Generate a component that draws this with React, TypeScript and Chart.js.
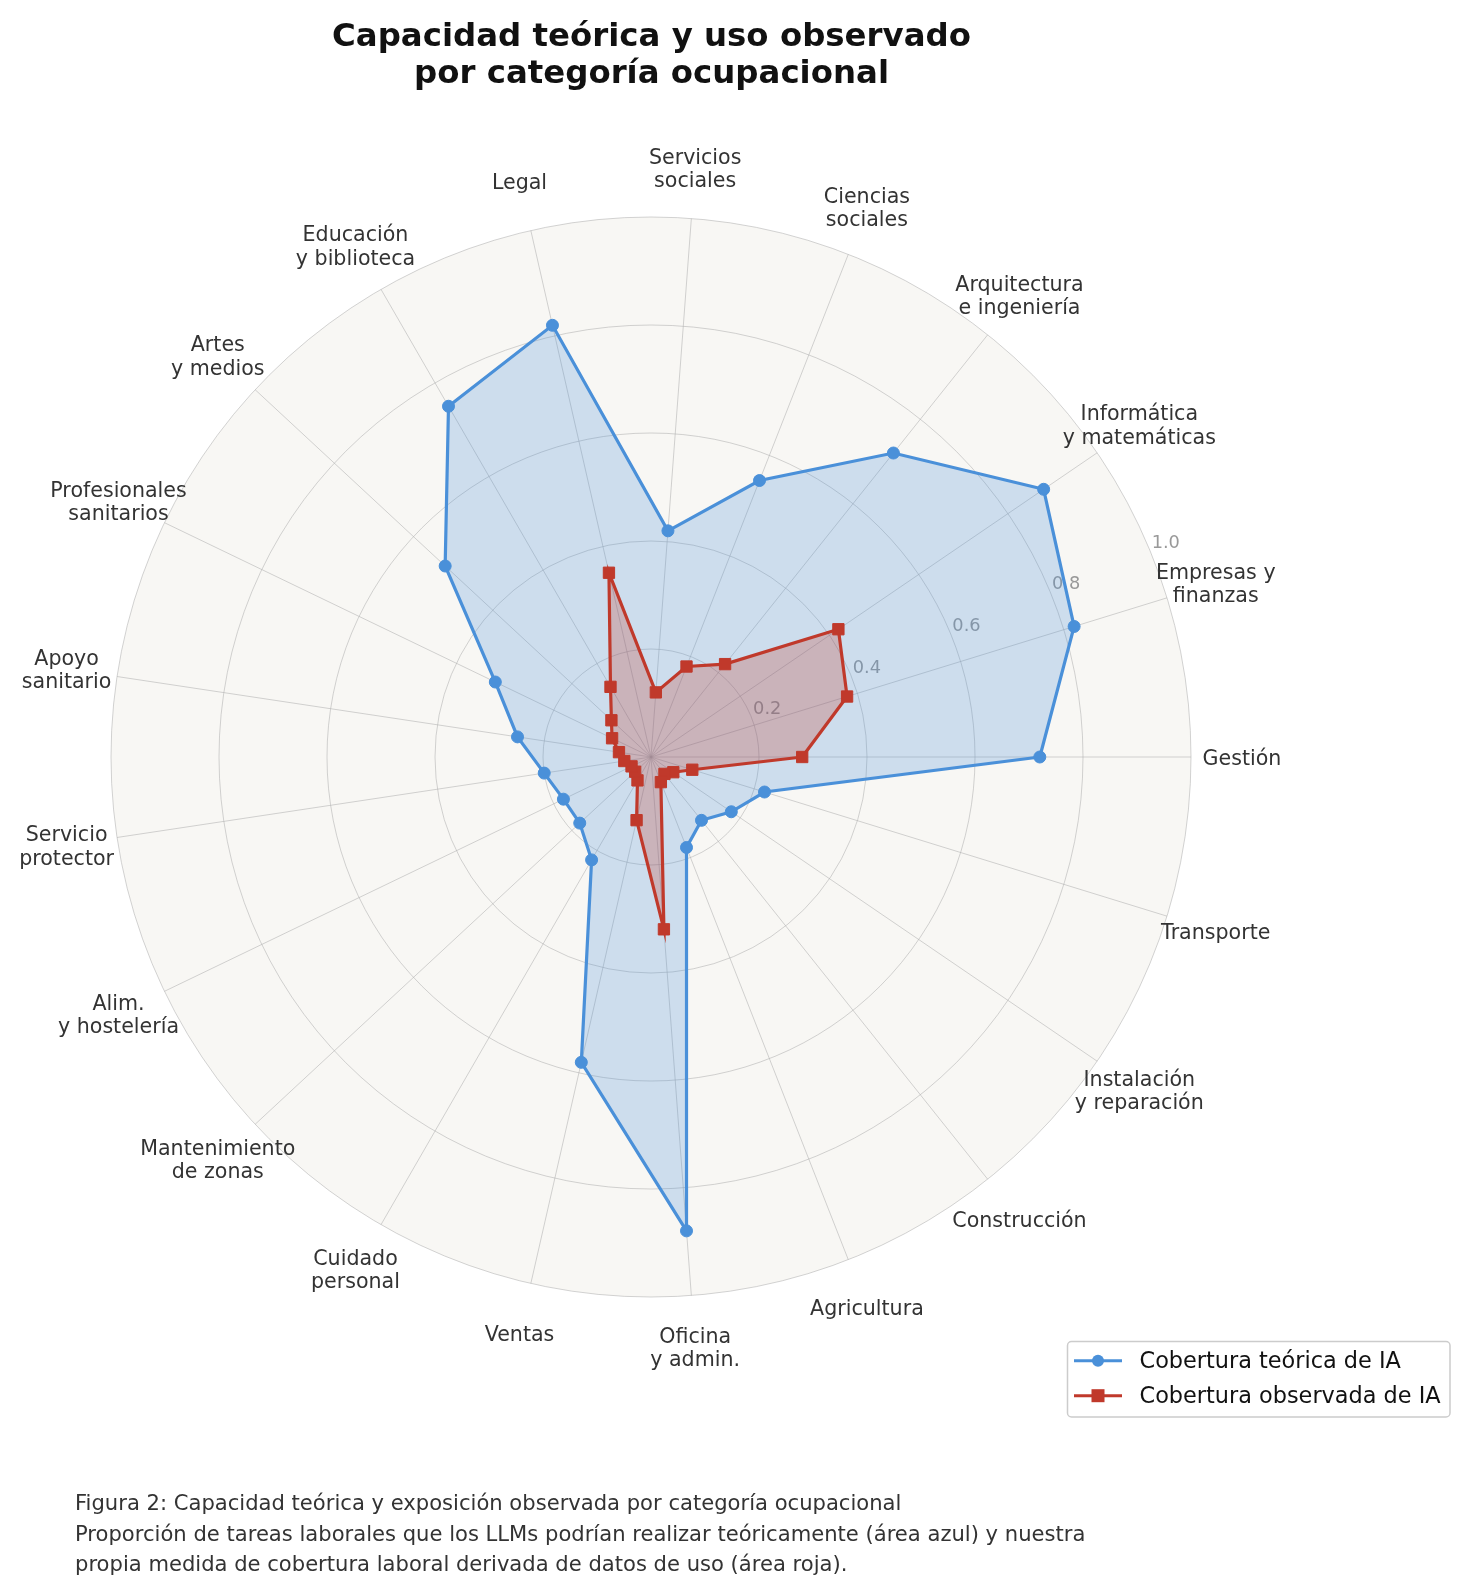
import React, { useEffect, useRef } from "react";
import { Chart, registerables } from "chart.js";

Chart.register(...registerables);

// Categories in counter-clockwise order starting at "Gestión" (east)
const CATEGORIES = [
  "Gestión",
  "Empresas y\nfinanzas",
  "Informática\ny matemáticas",
  "Arquitectura\ne ingeniería",
  "Ciencias\nsociales",
  "Servicios\nsociales",
  "Legal",
  "Educación\ny biblioteca",
  "Artes\ny medios",
  "Profesionales\nsanitarios",
  "Apoyo\nsanitario",
  "Servicio\nprotector",
  "Alim.\ny hostelería",
  "Mantenimiento\nde zonas",
  "Cuidado\npersonal",
  "Ventas",
  "Oficina\ny admin.",
  "Agricultura",
  "Construcción",
  "Instalación\ny reparación",
  "Transporte",
];

const THEORETICAL = [
  0.72, 0.82, 0.88, 0.72, 0.55, 0.42, 0.82, 0.75, 0.52, 0.32, 0.25,
  0.2, 0.18, 0.18, 0.22, 0.58, 0.88, 0.18, 0.15, 0.18, 0.22,
];

const OBSERVED = [
  0.28, 0.38, 0.42, 0.22, 0.18, 0.12, 0.35, 0.15, 0.1, 0.08, 0.06,
  0.05, 0.04, 0.04, 0.05, 0.12, 0.32, 0.05, 0.04, 0.05, 0.08,
];

const TICK_VALUES = [0.2, 0.4, 0.6, 0.8, 1.0];
const TICK_LABELS = ["0.2", "0.4", "0.6", "0.8", "1.0"];
const SERIES_NAMES = ["Cobertura teórica de IA", "Cobertura observada de IA"];
const TITLE_LINES = ["Capacidad teórica y uso observado", "por categoría ocupacional"];
const CAPTION_LINES = [
  "Figura 2: Capacidad teórica y exposición observada por categoría ocupacional",
  "Proporción de tareas laborales que los LLMs podrían realizar teóricamente (área azul) y nuestra",
  "propia medida de cobertura laboral derivada de datos de uso (área roja).",
];

const BLUE = "#4a90d9";
const RED = "#c0392b";
const FONT = "'DejaVu Sans', sans-serif";

// Chart.js draws clockwise; reorder so the visual order is counter-clockwise
const ORDER = [0, ...CATEGORIES.map((_, i) => i).slice(1).reverse()];

const textPlugin = {
  id: "customText",
  beforeDatasetsDraw(chart: any) {
    const s = chart.scales.r;
    const ctx = chart.ctx;
    ctx.save();
    ctx.font = `17.8px ${FONT}`;
    ctx.fillStyle = "#999999";
    ctx.textAlign = "center";
    ctx.textBaseline = "middle";
    const ang = (22.7 * Math.PI) / 180;
    TICK_VALUES.forEach((v, i) => {
      const d = s.getDistanceFromCenterForValue(v) + 18;
      ctx.fillText(TICK_LABELS[i], s.xCenter + Math.cos(ang) * d, s.yCenter - Math.sin(ang) * d + 1.5);
    });
    ctx.restore();
  },
  afterDraw(chart: any) {
    const s = chart.scales.r;
    const ctx = chart.ctx;
    ctx.save();
    // category labels
    ctx.font = `20.6px ${FONT}`;
    ctx.fillStyle = "#333333";
    ctx.textAlign = "center";
    ctx.textBaseline = "middle";
    const labels = chart.data.labels as string[];
    labels.forEach((lab, i) => {
      const p = s.getPointPosition(i, s.drawingArea + 51);
      const lines = lab.split("\n");
      lines.forEach((ln, k) => {
        ctx.fillText(ln, p.x, p.y + 2.5 + (k - (lines.length - 1) / 2) * 23.3);
      });
    });

    // legend
    const bx = 1067.5, by = 1341.5, bw = 382.5, bh = 75.5, rr = 4;
    ctx.beginPath();
    ctx.moveTo(bx + rr, by);
    ctx.lineTo(bx + bw - rr, by);
    ctx.arcTo(bx + bw, by, bx + bw, by + rr, rr);
    ctx.lineTo(bx + bw, by + bh - rr);
    ctx.arcTo(bx + bw, by + bh, bx + bw - rr, by + bh, rr);
    ctx.lineTo(bx + rr, by + bh);
    ctx.arcTo(bx, by + bh, bx, by + bh - rr, rr);
    ctx.lineTo(bx, by + rr);
    ctx.arcTo(bx, by, bx + rr, by, rr);
    ctx.closePath();
    ctx.fillStyle = "rgba(255,255,255,0.9)";
    ctx.fill();
    ctx.strokeStyle = "#cccccc";
    ctx.lineWidth = 1.5;
    ctx.stroke();

    const rows = [1360.7, 1395.7];
    const colors = [BLUE, RED];
    rows.forEach((y, i) => {
      ctx.strokeStyle = colors[i];
      ctx.lineWidth = 3;
      ctx.beginPath();
      ctx.moveTo(1074, y);
      ctx.lineTo(1122, y);
      ctx.stroke();
      ctx.fillStyle = colors[i];
      if (i === 0) {
        ctx.beginPath();
        ctx.arc(1098, y, 6, 0, Math.PI * 2);
        ctx.fill();
      } else {
        ctx.fillRect(1098 - 6.5, y - 6.5, 13, 13);
      }
      ctx.font = `22.4px ${FONT}`;
      ctx.fillStyle = "#111111";
      ctx.textAlign = "left";
      ctx.textBaseline = "middle";
      ctx.fillText(SERIES_NAMES[i], 1139.5, y + 1);
    });
    ctx.restore();
  },
};

export default function App() {
  const ref = useRef<HTMLCanvasElement | null>(null);

  useEffect(() => {
    if (!ref.current) return;
    const grid = "rgba(175,175,175,0.55)";
    const chart = new Chart(ref.current, {
      type: "radar",
      data: {
        labels: ORDER.map((i) => CATEGORIES[i]),
        datasets: [
          {
            label: SERIES_NAMES[0],
            data: ORDER.map((i) => THEORETICAL[i]),
            borderColor: BLUE,
            backgroundColor: "rgba(74,144,217,0.25)",
            borderWidth: 3.2,
            pointStyle: "circle",
            pointRadius: 6,
            pointBackgroundColor: BLUE,
            pointBorderColor: BLUE,
            pointBorderWidth: 1,
            fill: true,
            order: 2,
          },
          {
            label: SERIES_NAMES[1],
            data: ORDER.map((i) => OBSERVED[i]),
            borderColor: RED,
            backgroundColor: "rgba(192,57,43,0.26)",
            borderWidth: 3.2,
            pointStyle: "rect",
            pointRadius: 8,
            pointBackgroundColor: RED,
            pointBorderColor: RED,
            pointBorderWidth: 1,
            fill: true,
            order: 1,
          },
        ],
      },
      options: {
        responsive: false,
        animation: false,
        layout: { padding: { left: 111, right: 277, top: 217, bottom: 298 } },
        plugins: {
          legend: { display: false },
          title: { display: false },
          tooltip: { enabled: false },
        },
        elements: { line: { tension: 0 } },
        scales: {
          r: {
            min: 0,
            max: 1,
            startAngle: 90,
            backgroundColor: "#f8f7f4",
            ticks: { display: false, stepSize: 0.2 },
            pointLabels: { display: false },
            grid: { circular: true, color: grid, lineWidth: 1 },
            angleLines: { display: true, color: grid, lineWidth: 1 },
          },
        },
      },
      plugins: [textPlugin],
    });
    return () => chart.destroy();
  }, []);

  return (
    <div style={{ position: "absolute", left: 0, top: 0, width: 1468, height: 1595, background: "#ffffff" }}>
      <canvas ref={ref} width={1468} height={1595} style={{ position: "absolute", left: 0, top: 0, width: 1468, height: 1595 }} />
      <div
        style={{
          position: "absolute",
          left: 0,
          top: 16.5,
          width: 1303,
          textAlign: "center",
          fontFamily: FONT,
          fontWeight: "bold",
          fontSize: "32.4px",
          lineHeight: "37.6px",
          color: "#111111",
        }}
      >
        {TITLE_LINES.map((t, i) => (
          <div key={i}>{t}</div>
        ))}
      </div>
      <div
        style={{
          position: "absolute",
          left: 75,
          top: 1488,
          fontFamily: FONT,
          fontSize: "21.1px",
          lineHeight: "30.5px",
          color: "#333333",
          whiteSpace: "nowrap",
        }}
      >
        {CAPTION_LINES.map((t, i) => (
          <div key={i}>{t}</div>
        ))}
      </div>
    </div>
  );
}
